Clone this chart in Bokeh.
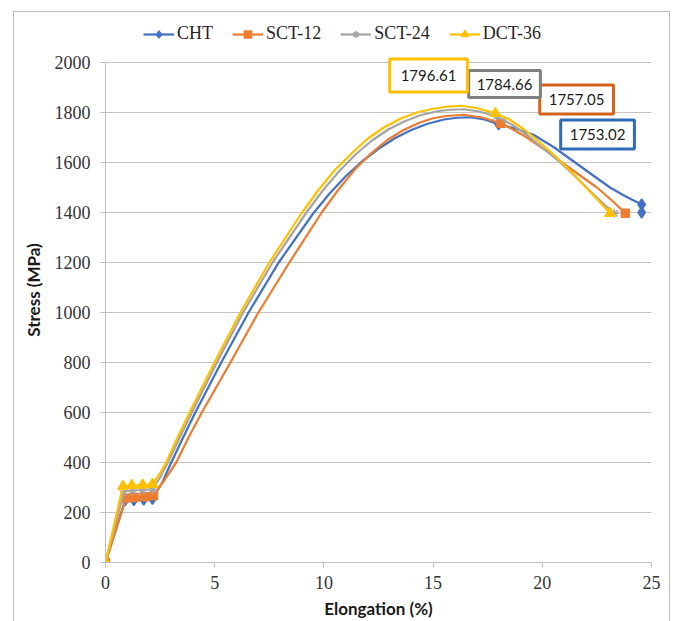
from bokeh.plotting import figure
from bokeh.models import Legend, LegendItem, Label, FixedTicker, Range1d
from bokeh.embed import file_html
from bokeh.resources import INLINE

# ---- tensile test data: elongation (%) vs stress (MPa) ----
series_names = ["CHT", "SCT-12", "SCT-24", "DCT-36"]

elong_cht = [0, 0.9, 1.3, 1.75, 2.15, 2.6, 3.01, 3.5, 4.11, 5.3, 6.55, 7.93, 9.5,
             10.25, 11.0, 11.75, 12.5, 13.25, 14.0, 14.75, 15.5, 16.1, 16.7, 17.35,
             18.0, 18.8, 19.6, 20.55, 21.5, 22.3, 23.1, 23.8, 24.55, 24.55]
stress_cht = [0, 250, 250, 252, 255, 320, 400, 490, 600, 800, 1000, 1200, 1395,
              1475, 1545, 1605, 1655, 1697, 1730, 1755, 1772, 1779, 1781, 1772,
              1753.02, 1735, 1711, 1660, 1600, 1550, 1500, 1465, 1432, 1400]
marked_cht = [0, 1, 2, 3, 4, 24, 32, 33]

elong_sct12 = [0, 0.95, 1.35, 1.8, 2.2, 2.7, 3.24, 3.8, 4.41, 5.72, 7.0, 8.42, 9.9,
               10.65, 11.4, 12.15, 12.9, 13.65, 14.4, 15.0, 15.6, 16.4, 17.25,
               18.1, 18.7, 19.3, 20.1, 20.9, 21.7, 22.5, 23.2, 23.8]
stress_sct12 = [0, 258, 260, 263, 268, 330, 400, 500, 600, 800, 1000, 1200, 1400,
                1490, 1570, 1636, 1690, 1730, 1760, 1777, 1786, 1791, 1780,
                1757.05, 1730, 1700, 1652, 1600, 1550, 1500, 1447, 1397]
marked_sct12 = [0, 1, 2, 3, 4, 23, 31]

elong_sct24 = [0, 0.85, 1.25, 1.7, 2.15, 2.5, 2.85, 3.4, 3.95, 5.1, 6.3, 7.65, 9.2,
               9.95, 10.7, 11.45, 12.2, 12.95, 13.7, 14.45, 15.2, 15.8, 16.4, 17.1,
               17.9, 18.6, 19.3, 20.0, 20.8, 21.5, 22.2, 22.8, 23.3]
stress_sct24 = [0, 285, 288, 290, 293, 340, 400, 500, 600, 800, 1000, 1200, 1400,
                1488, 1565, 1632, 1688, 1732, 1765, 1790, 1805, 1811, 1813, 1804,
                1784.66, 1752, 1710, 1660, 1602, 1545, 1485, 1435, 1397]
marked_sct24 = [0, 1, 2, 3, 4, 24, 32]

elong_dct36 = [0, 0.8, 1.2, 1.7, 2.15, 2.45, 2.78, 3.3, 3.85, 4.99, 6.18, 7.5, 9.0,
               9.75, 10.5, 11.25, 12.0, 12.75, 13.5, 14.25, 15.0, 15.6, 16.26, 17.0,
               17.85, 18.5, 19.2, 19.9, 20.6, 21.3, 22.0, 22.6, 23.1]
stress_dct36 = [0, 305, 308, 310, 313, 350, 400, 500, 600, 800, 1000, 1200, 1400,
                1490, 1570, 1635, 1695, 1740, 1775, 1800, 1815, 1823, 1827, 1818,
                1796.61, 1772, 1730, 1680, 1625, 1565, 1500, 1445, 1397]
marked_dct36 = [0, 1, 2, 3, 4, 24, 32]

# ultimate tensile strength callouts
uts_labels = ["1753.02", "1757.05", "1784.66", "1796.61"]

x_ticks = [0, 5, 10, 15, 20, 25]
y_ticks = [0, 200, 400, 600, 800, 1000, 1200, 1400, 1600, 1800, 2000]

colors = ["#4472C4", "#ED7D31", "#A5A5A5", "#FFC000"]
markers = ["diamond", "square", "asterisk", "triangle"]
marker_sizes = [11, 8, 9, 10]
box_colors = ["#2E6DB4", "#D4621A", "#7F7F7F", "#FFC000"]
box_padding = [9, 9, 8, 11]
# callout centres (elongation, stress) for each series
box_pos = [(22.53, 1712), (21.57, 1852), (18.27, 1914), (14.79, 1948)]

# the frame reaches a little above 2000 MPa so that the legend row and the
# top callout have room; the y axis itself stops at 2000
p = figure(width=657, height=615, x_range=Range1d(0, 25), y_range=Range1d(0, 2180),
           output_backend="svg", toolbar_location=None,
           min_border_left=91, min_border_right=20, min_border_top=5,
           min_border_bottom=65)
p.margin = (11, 0, 0, 13)
p.styles = {"border": "1px solid #BFBFBF"}
p.outline_line_color = None
p.background_fill_color = "white"
p.border_fill_color = "white"

p.xgrid.visible = False
p.ygrid.grid_line_color = "#C4C4C4"
p.ygrid.grid_line_width = 1

p.xaxis.ticker = FixedTicker(ticks=x_ticks)
p.yaxis.ticker = FixedTicker(ticks=y_ticks)
p.yaxis.bounds = (0, 2000)
p.axis.axis_line_color = "#BFBFBF"
p.axis.major_tick_line_color = "#BFBFBF"
p.axis.major_tick_out = 5
p.axis.major_tick_in = 0
p.axis.minor_tick_line_color = None
p.axis.major_label_text_font = "Liberation Serif"
p.axis.major_label_text_font_size = "18px"
p.axis.major_label_text_color = "#333333"
p.yaxis.major_label_standoff = 10
p.xaxis.major_label_standoff = 8

p.xaxis.axis_label = "Elongation (%)"
p.yaxis.axis_label = "Stress (MPa)"
p.axis.axis_label_text_font = "Lato"
p.axis.axis_label_text_font_style = "bold"
p.axis.axis_label_text_font_size = "17px"
p.axis.axis_label_text_color = "#1A1A1A"
p.yaxis.axis_label_standoff = 8
p.xaxis.axis_label_standoff = 6

all_e = [elong_cht, elong_sct12, elong_sct24, elong_dct36]
all_s = [stress_cht, stress_sct12, stress_sct24, stress_dct36]
all_m = [marked_cht, marked_sct12, marked_sct24, marked_dct36]

items = []
for i, name in enumerate(series_names):
    e, s, m = all_e[i], all_s[i], all_m[i]
    line_r = p.line(e, s, line_color=colors[i], line_width=2.25,
                    line_join="round")
    mark_r = p.scatter([e[k] for k in m], [s[k] for k in m], marker=markers[i],
                       size=marker_sizes[i], fill_color=colors[i],
                       line_color=colors[i], line_width=1.5)
    items.append(LegendItem(label=name, renderers=[line_r, mark_r]))

# horizontal legend row across the top
legend = Legend(items=items, orientation="horizontal", location=(38, 518),
                border_line_color=None, background_fill_alpha=0,
                label_text_font="Liberation Serif", label_text_font_size="18px",
                label_text_color="#262626", glyph_width=31, glyph_height=18,
                label_height=18, label_standoff=3, spacing=19, padding=0,
                margin=0)
p.add_layout(legend, "center")

for i in range(len(series_names)):
    bx, by = box_pos[i]
    p.add_layout(Label(x=bx, y=by, text=uts_labels[i], text_align="center",
                       text_baseline="middle", text_font="Lato",
                       text_font_size="15px", text_color="#1A1A1A",
                       border_line_color=box_colors[i], border_line_width=3,
                       background_fill_color="white", padding=box_padding[i]))

open("out.html", "w").write(file_html(p, INLINE))
